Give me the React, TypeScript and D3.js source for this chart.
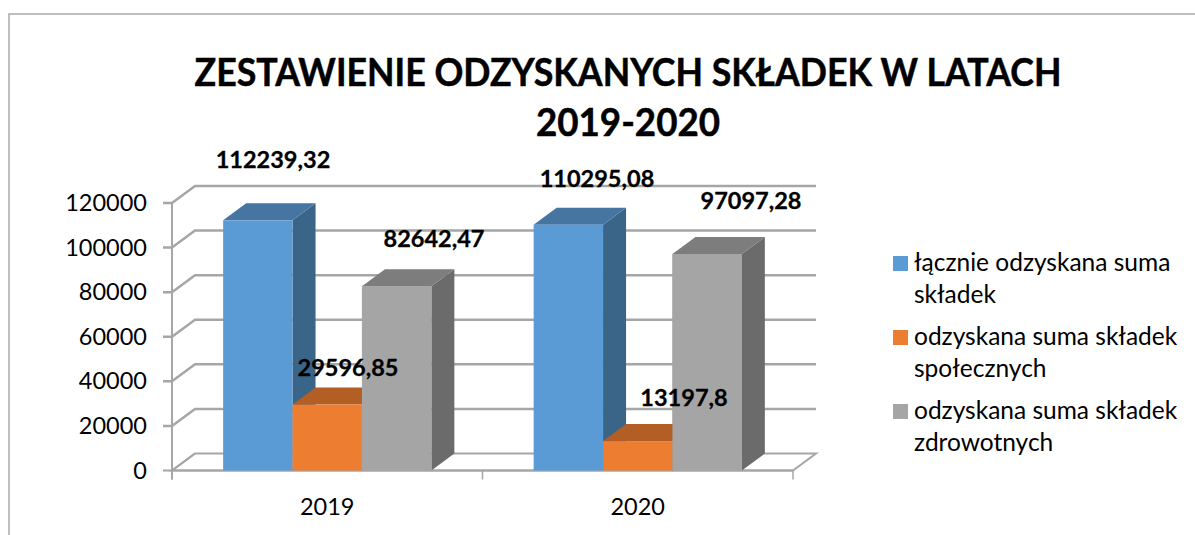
import React from "react";
import * as d3 from "d3";

const title = ["ZESTAWIENIE ODZYSKANYCH SKŁADEK W LATACH", "2019-2020"];
const categories = ["2019", "2020"];
const seriesNames = ["łącznie odzyskana suma składek", "odzyskana suma składek społecznych", "odzyskana suma składek zdrowotnych"];
const legendLines = [["łącznie odzyskana suma", "składek"], ["odzyskana suma składek", "społecznych"], ["odzyskana suma składek", "zdrowotnych"]];
const total = [112239.32, 110295.08];
const social = [29596.85, 13197.8];
const health = [82642.47, 97097.28];
const labelsTotal = ["112239,32", "110295,08"];
const labelsSocial = ["29596,85", "13197,8"];
const labelsHealth = ["82642,47", "97097,28"];
const ticks = [0, 20000, 40000, 60000, 80000, 100000, 120000];
const series = [total, social, health];
const seriesLabels = [labelsTotal, labelsSocial, labelsHealth];
const faceColors = ["#5b9bd5", "#ed7d31", "#a5a5a5"];
const topColors = ["#4675a1", "#b25e24", "#7d7d7d"];
const sideColors = ["#3b6489", "#97501f", "#6b6b6b"];
const labelPos = [[[273, 168], [597, 187]], [[348, 376], [684, 406]], [[434, 247], [751, 209]]];

const FONT = "Lato, Carlito, 'Open Sans', sans-serif";
const GRID = "#a6a6a6";
const DX = 23;
const DY = -17;

export default function App() {
  const y = d3.scaleLinear().domain([0, 120000]).range([470.5, 203]);
  const x0 = d3.scaleBand().domain(categories).range([172, 793]);
  const inner = d3.scaleBand().domain(["0", "1", "2"]).range([0, x0.bandwidth()]).paddingOuter(0.737).paddingInner(0);
  const x0L = 172, x0R = 793, yB = y(0);
  return (
    <svg width={1195} height={535} style={{ position: "absolute", left: 0, top: 0, background: "#fff" }} fontFamily={FONT}>
      <path d="M9,535V14H1195" fill="none" stroke="#a9a9a9" strokeWidth={1.5} />
      {title.map((t, i) => (
        <text key={i} x={628} y={86 + i * 50} textAnchor="middle" fontSize={39} fontWeight={700} fill="#000"
          stroke="#000" strokeWidth={0.5} textLength={i === 0 ? 867 : 184} lengthAdjust="spacingAndGlyphs">{t}</text>
      ))}
      <path d={`M${x0L},${yB}L${x0L + DX},${yB + DY}H${x0R + DX}L${x0R},${yB}Z`} fill="none" stroke={GRID} strokeWidth={2} />
      <line x1={x0L} x2={x0L} y1={y(120000)} y2={yB + 9} stroke={GRID} strokeWidth={2} />
      {ticks.map(t => (
        <g key={t}>
          <path d={`M${x0L - 9},${y(t)}H${x0L}L${x0L + DX},${y(t) + DY}${t > 0 ? `H${x0R + DX}` : ""}`} fill="none" stroke={GRID} strokeWidth={t === 0 ? 2 : 2.5} />
          <text x={147} y={y(t) + 8} textAnchor="end" fontSize={23.5} fill="#000">{d3.format("d")(t)}</text>
        </g>
      ))}
      <line x1={x0L} x2={x0R} y1={yB} y2={yB} stroke={GRID} strokeWidth={2} />
      {[x0L, x0.bandwidth() + x0L, x0R].map(v => (
        <line key={v} x1={v} x2={v} y1={yB} y2={yB + 9} stroke={GRID} strokeWidth={1.5} />
      ))}
      {categories.map((c, ci) =>
        [0, 2, 1].map(si => {
          const v = series[si][ci];
          const l = x0(c)! + inner(String(si))!;
          const w = inner.bandwidth();
          const t = y(v);
          return (
            <g key={c + si}>
              <path d={`M${l + w},${t}L${l + w + DX},${t + DY}V${yB + DY}L${l + w},${yB}Z`} fill={sideColors[si]} />
              <path d={`M${l},${t}L${l + DX},${t + DY}H${l + w + DX}L${l + w},${t}Z`} fill={topColors[si]} />
              <rect x={l} y={t} width={w} height={yB - t} fill={faceColors[si]} />
            </g>
          );
        })
      )}
      {categories.map(c => {
        const l = x0(c)! + inner("2")!;
        const ci = categories.indexOf(c);
        const t = y(health[ci]);
        return <rect key={c} x={l} y={t} width={inner.bandwidth()} height={yB - t} fill={faceColors[2]} />;
      })}
      {categories.map(c => (
        <text key={c} x={x0(c)! + x0.bandwidth() / 2} y={515} textAnchor="middle" fontSize={23.5} fill="#000">{c}</text>
      ))}
      {seriesLabels.map((labels, si) => labels.map((lab, ci) => (
        <text key={lab} x={labelPos[si][ci][0]} y={labelPos[si][ci][1]} textAnchor="middle" fontSize={23.5} fontWeight={700} fill="#000" stroke="#000" strokeWidth={0.3}>{lab}</text>
      )))}
      {seriesNames.map((n, i) => (
        <g key={n}>
          <rect x={893} y={256 + i * 74} width={15} height={15} fill={faceColors[i]} />
          {legendLines[i].map((ln, j) => (
            <text key={j} x={914} y={271 + i * 74 + j * 32} fontSize={24.5} fill="#000">{ln}</text>
          ))}
        </g>
      ))}
    </svg>
  );
}
